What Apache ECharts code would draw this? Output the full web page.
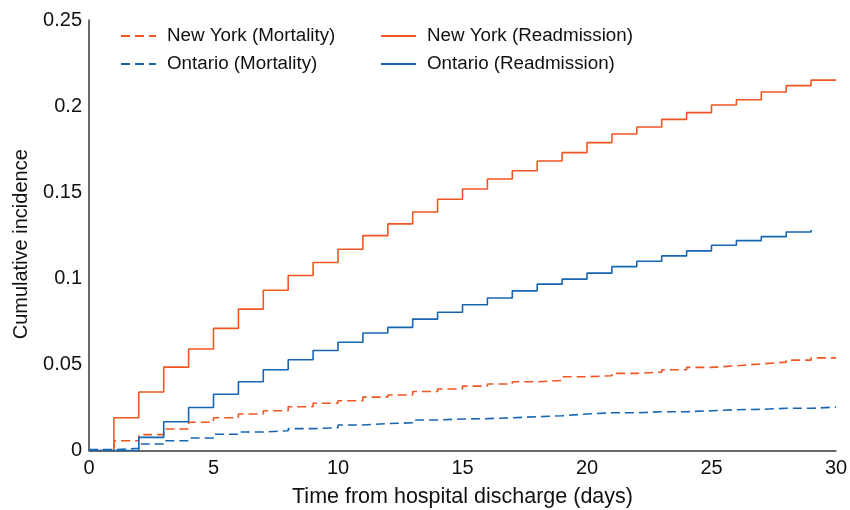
<!DOCTYPE html>
<html>
<head>
<meta charset="utf-8">
<script src="https://cdn.jsdelivr.net/npm/echarts@6/dist/echarts.min.js"></script>
<style>
html,body{margin:0;padding:0;background:#fff;}
#c{width:850px;height:510px;}
</style>
</head>
<body>
<div id="c"></div>
<script>
var days = [0,1,2,3,4,5,6,7,8,9,10,11,12,13,14,15,16,17,18,19,20,21,22,23,24,25,26,27,28,29,30];
var nyMortality = [0,0.0057,0.0092,0.0125,0.0164,0.0190,0.0212,0.0231,0.0254,0.0274,0.0289,0.0310,0.0322,0.0343,0.0357,0.0374,0.0386,0.0399,0.0407,0.0428,0.0434,0.0448,0.0455,0.0469,0.0483,0.0492,0.0503,0.0513,0.0525,0.0538,0.0538];
var nyReadmission = [0,0.0190,0.0340,0.0484,0.0589,0.0709,0.0821,0.0931,0.1016,0.1092,0.1169,0.1248,0.1316,0.1385,0.1459,0.1519,0.1577,0.1625,0.1681,0.1730,0.1788,0.1838,0.1879,0.1923,0.1962,0.2006,0.2037,0.2082,0.2119,0.2151,0.2151];
var onMortality = [0.0005,0.0013,0.0038,0.0057,0.0073,0.0094,0.0107,0.0115,0.0127,0.0132,0.0148,0.0156,0.0161,0.0177,0.0183,0.0185,0.0190,0.0196,0.0202,0.0212,0.0219,0.0219,0.0225,0.0225,0.0231,0.0237,0.0239,0.0245,0.0245,0.0252,0.0252];
var onReadmission = [0,0,0.0076,0.0167,0.0250,0.0327,0.0399,0.0469,0.0527,0.0581,0.0629,0.0682,0.0715,0.0763,0.0803,0.0846,0.0886,0.0927,0.0966,0.0995,0.1030,0.1068,0.1099,0.1130,0.1159,0.1192,0.1219,0.1242,0.1269,0.1281];
var yTicks = [0,0.05,0.1,0.15,0.2,0.25];
var xTicks = [0,5,10,15,20,25,30];

var ORANGE = '#ef5622';
var BLUE = '#1766b2';
var FONT = '"Liberation Sans", Arial, Helvetica, sans-serif';

function pairs(xs, ys){ return ys.map(function(v,i){ return [xs[i], v]; }); }

function series(name, ys, color, dashed){
  return {
    name: name, type: 'line', step: 'end', symbol: 'none', silent: true,
    data: pairs(days, ys),
    lineStyle: {color: color, width: 1.6, type: dashed ? [9,5] : 'solid'},
    itemStyle: {color: color},
    animation: false
  };
}

var chart = echarts.init(document.getElementById('c'), null, {renderer:'canvas'});
var legendText = {fontFamily: FONT, fontSize: 18.8, color: '#111', lineHeight: 20, padding:[0,0,0,6]};
function legend(names, left){
  return {data: names, orient: 'vertical', left: left, top: 26, padding: 0,
    itemWidth: 35, itemHeight: 14, itemGap: 8, textStyle: legendText, selectedMode: false,
    itemStyle: {opacity: 0}};
}
chart.setOption({
  animation: false,
  backgroundColor: '#fff',
  grid: {left: 89, right: 14, top: 20, bottom: 59.5, containLabel: false, outerBoundsMode: 'none'},
  legend: [
    legend(['New York (Mortality)','Ontario (Mortality)'], 120),
    legend(['New York (Readmission)','Ontario (Readmission)'], 380)
  ],
  xAxis: {
    type: 'value', min: xTicks[0], max: xTicks[xTicks.length-1], interval: 5,
    name: 'Time from hospital discharge (days)', nameLocation: 'middle', nameGap: 36,
    nameTextStyle: {fontFamily: FONT, fontSize: 21.5, color: '#111'},
    axisLine: {show: true, lineStyle: {color: '#3a3a3a', width: 1.5}},
    axisTick: {show: false}, splitLine: {show: false},
    axisLabel: {fontFamily: FONT, fontSize: 20, color: '#111', margin: 8}
  },
  yAxis: {
    type: 'value', min: yTicks[0], max: yTicks[yTicks.length-1], interval: 0.05,
    name: 'Cumulative incidence', nameLocation: 'middle', nameGap: 58,
    nameTextStyle: {fontFamily: FONT, fontSize: 20, color: '#111', padding: [0, 18, 0, 0]},
    axisLine: {show: true, lineStyle: {color: '#3a3a3a', width: 1.5}},
    axisTick: {show: false}, splitLine: {show: false},
    axisLabel: {fontFamily: FONT, fontSize: 20, color: '#111', margin: 7}
  },
  series: [
    series('New York (Mortality)', nyMortality, ORANGE, true),
    series('New York (Readmission)', nyReadmission, ORANGE, false),
    series('Ontario (Mortality)', onMortality, BLUE, true),
    series('Ontario (Readmission)', onReadmission, BLUE, false)
  ]
});
</script>
</body>
</html>
